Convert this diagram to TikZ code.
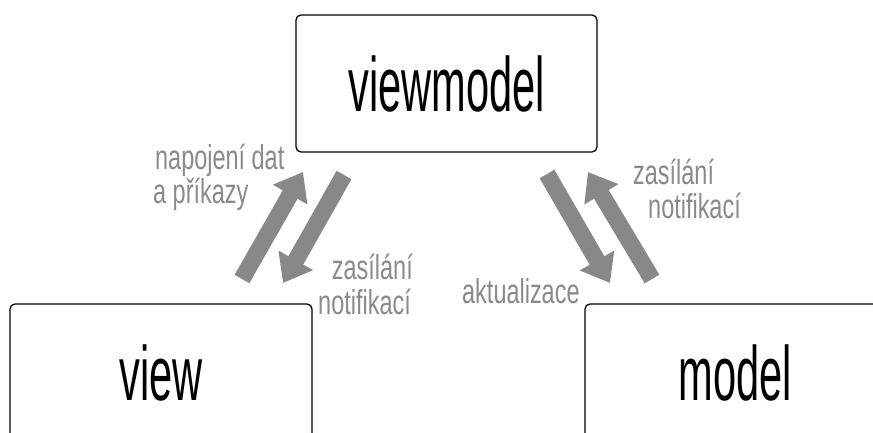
\documentclass[tikz,border=0pt]{standalone}
\usepackage{fontspec}
\setmainfont{Liberation Sans}
\usetikzlibrary{arrows.meta}
\definecolor{lbl}{RGB}{138,138,138}
\definecolor{arr}{RGB}{136,136,136}
\newcommand{\nar}[1]{\scalebox{0.54}[1]{#1}}
\newcommand{\lnar}[1]{\scalebox{0.68}[1]{#1}}
\begin{document}
\begin{tikzpicture}[x=1pt,y=-1pt,
  box/.style={draw=black, line width=1.3pt, rounded corners=5pt, inner sep=0pt, font=\fontsize{77}{80}\selectfont},
  lab/.style={text=lbl, font=\fontsize{34.5}{36}\selectfont, inner sep=0pt},
  flow/.style={draw=arr, line width=17pt, -{Triangle[length=26pt,width=38pt]}}]
\useasboundingbox (0,0) rectangle (873,433);
\clip (0,0) rectangle (873,433);
% boxes
\node[box, minimum width=301pt, minimum height=137pt] (vm) at (446.5,83.5) {\nar{viewmodel}};
\node[box, minimum width=302pt, minimum height=137pt] (view) at (161,372.5) {\nar{view}};
\node[box, minimum width=300pt, minimum height=137pt] (model) at (735,372.5) {\nar{model}};
% arrow end points
\coordinate (a1s) at (242,279); \coordinate (a1e) at (303,172);
\coordinate (a2s) at (344,175); \coordinate (a2e) at (283,283);
\coordinate (a3s) at (547,174); \coordinate (a3e) at (610,283);
\coordinate (a4s) at (652,279); \coordinate (a4e) at (588,172);
\draw[flow] (a1s) -- (a1e);
\draw[flow] (a2s) -- (a2e);
\draw[flow] (a3s) -- (a3e);
\draw[flow] (a4s) -- (a4e);
% labels
\node[lab, anchor=base west] (l1a) at (155,169) {\lnar{napojení dat}};
\node[lab, anchor=base west] (l1b) at (153,203) {\lnar{a příkazy}};
\node[lab, anchor=base east] (l2a) at (413,279) {\lnar{zasílání}};
\node[lab, anchor=base east] (l2b) at (411,314) {\lnar{notifikací}};
\node[lab, anchor=base west] (l3a) at (633,185) {\lnar{zasílání}};
\node[lab, anchor=base west] (l3b) at (648,218) {\lnar{notifikací}};
\node[lab, anchor=base west] (l4) at (462,303) {\lnar{aktualizace}};
\end{tikzpicture}
\end{document}
